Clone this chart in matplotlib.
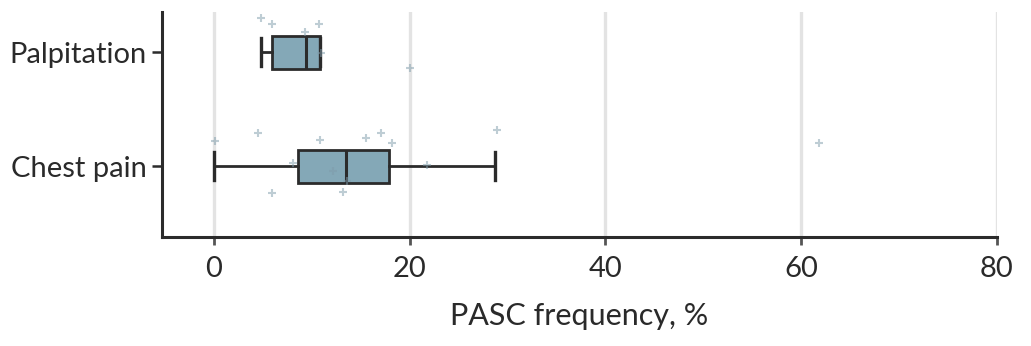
"""
PASC frequency boxplot: Palpitation / Chest pain
"""

import matplotlib
matplotlib.use("Agg")
import matplotlib.pyplot as plt

# categories, bottom to top
categories = ["Chest pain", "Palpitation"]

# box stats (%)
whislo = [0.0, 4.8]
q1 = [8.6, 6.0]
med = [13.5, 9.4]
q3 = [17.9, 10.9]
whishi = [28.7, 10.9]

# single study values (%) and their vertical jitter
chest_vals = [0.1, 4.5, 10.9, 15.5, 17.1, 18.2, 28.9, 8.1, 12.2, 13.6, 21.8, 5.9, 13.2, 61.8]
chest_jit = [0.22, 0.29, 0.23, 0.25, 0.29, 0.20, 0.32, 0.03, -0.04, -0.13, 0.01, -0.24, -0.23, 0.20]
palp_vals = [4.8, 6.0, 9.3, 10.8, 11.0, 20.0]
palp_jit = [0.30, 0.25, 0.18, 0.25, -0.01, -0.14]

xticks = [0, 20, 40, 60, 80]

DARK = "#2b2b2b"
BOXCOL = "#84a8b7"
DOTCOL = "#7f9cab"


def main():
    plt.rcParams["font.family"] = ["Lato", "DejaVu Sans"]
    fig = plt.figure(figsize=(10.31, 3.46), dpi=100)
    ax = fig.add_axes([0.157, 0.315, 0.81, 0.65])

    stats = []
    for i in range(len(categories)):
        stats.append(dict(whislo=whislo[i], q1=q1[i], med=med[i], q3=q3[i],
                          whishi=whishi[i], fliers=[], label=categories[i]))

    ax.bxp(stats, positions=[0, 1], vert=False, widths=0.29, capwidths=0.24,
           patch_artist=True, showfliers=False,
           boxprops=dict(facecolor=BOXCOL, edgecolor=DARK, linewidth=2.0),
           medianprops=dict(color=DARK, linewidth=2.2),
           whiskerprops=dict(color=DARK, linewidth=2.0),
           capprops=dict(color=DARK, linewidth=2.4), zorder=3)

    ax.plot(chest_vals, [0 + j for j in chest_jit], "+", color=DOTCOL,
            alpha=0.5, ms=6, mew=1.5, zorder=4)
    ax.plot(palp_vals, [1 + j for j in palp_jit], "+", color=DOTCOL,
            alpha=0.5, ms=6, mew=1.5, zorder=4)

    ax.set_xlim(-5.3, 80)
    ax.set_ylim(-0.623, 1.351)
    ax.set_xticks(xticks)
    ax.set_yticks([0, 1])
    ax.set_yticklabels(categories)
    ax.grid(axis="x", color="#e3e3e3", linewidth=2.4, zorder=0)
    ax.set_axisbelow(True)

    for s in ["top", "right"]:
        ax.spines[s].set_visible(False)
    for s in ["left", "bottom"]:
        ax.spines[s].set_color(DARK)
        ax.spines[s].set_linewidth(2.2)

    ax.tick_params(axis="y", length=7, width=1.8, color=DARK, labelsize=21,
                   labelcolor="#2a2a2a", pad=4)
    ax.tick_params(axis="x", length=6, width=2, color="#555555", labelsize=21,
                   labelcolor="#2a2a2a", pad=8)
    ax.set_xlabel("PASC frequency, %", fontsize=22, color="#2a2a2a", labelpad=14)

    fig.savefig("out.png", dpi=100)


if __name__ == "__main__":
    main()
